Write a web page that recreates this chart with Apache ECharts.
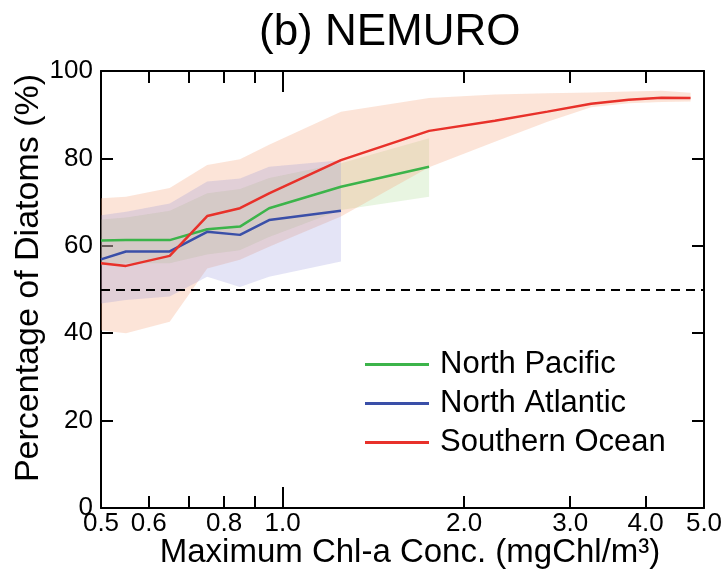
<!DOCTYPE html>
<html>
<head>
<meta charset="utf-8">
<script src="https://cdn.jsdelivr.net/npm/echarts@6/dist/echarts.min.js"></script>
<style>html,body{margin:0;padding:0;background:#fff}#c{width:726px;height:577px;background:#fff}</style>
</head>
<body>
<div id="c"></div>
<script>
// ---- data ----
const titleText = '(b) NEMURO';
const xName = 'Maximum Chl-a Conc. (mgChl/m\u00B3)';
const yName = 'Percentage of Diatoms (%)';
const xTickValues = [0.5, 0.6, 0.7, 0.8, 0.9, 1.0, 2.0, 3.0, 4.0, 5.0];
const xLabelValues = [0.5, 0.6, 0.8, 1.0, 2.0, 3.0, 4.0, 5.0];
const xMajorTick = [1.0];
const refLine = 50;

const xPacific = [0.5, 0.55, 0.65, 0.75, 0.85, 0.95, 1.25, 1.75];
const pacific = [61.2, 61.3, 61.3, 63.8, 64.4, 68.6, 73.5, 78.1];
const pacificHi = [66.0, 66.5, 68.0, 72.0, 73.0, 75.5, 78.9, 84.6];
const pacificLo = [55.5, 56.0, 56.0, 58.0, 59.0, 62.0, 68.2, 71.2];

const xAtlantic = [0.5, 0.55, 0.65, 0.75, 0.85, 0.95, 1.25];
const atlantic = [56.9, 58.7, 58.7, 63.2, 62.5, 65.9, 68.0];
const atlanticHi = [67.0, 67.8, 69.7, 74.7, 75.4, 78.1, 79.6];
const atlanticLo = [46.8, 47.6, 48.4, 52.9, 50.6, 52.9, 56.4];

const xSouthern = [0.5, 0.55, 0.65, 0.75, 0.85, 0.95, 1.25, 1.75, 2.25, 2.75, 3.25, 3.75, 4.25, 4.75];
const southern = [56.0, 55.4, 57.7, 66.8, 68.6, 72.0, 79.6, 86.3, 88.6, 90.7, 92.5, 93.4, 93.9, 93.8];
const southernHi = [70.9, 71.2, 73.2, 78.5, 79.8, 83.1, 90.7, 93.8, 94.6, 94.9, 95.1, 95.3, 95.5, 95.0];
const southernLo = [40.7, 40.0, 42.6, 54.8, 56.8, 59.8, 66.7, 78.0, 83.8, 88.4, 91.7, 92.6, 92.9, 93.0];

const names = ['North Pacific', 'North Atlantic', 'Southern Ocean'];
// ----------------------------------------

const FONT = '"Liberation Sans", Arial, Helvetica, sans-serif';
const pairs = (xs, ys) => xs.map((x, i) => [x, ys[i]]);
const blk = () => ({ color: '#000', width: 2 });
const tk = () => ({ color: '#000', width: 2 });

function band(xs, lo, hi, color, opacity, z) {
  return {
    type: 'custom', silent: true, z: z, clip: true,
    data: [[xs[0], lo[0]]],
    renderItem: function (params, api) {
      const pts = [];
      for (let i = 0; i < xs.length; i++) pts.push(api.coord([xs[i], hi[i]]));
      for (let i = xs.length - 1; i >= 0; i--) pts.push(api.coord([xs[i], lo[i]]));
      return { type: 'polygon', shape: { points: pts }, style: { fill: color, opacity: opacity } };
    }
  };
}

function logAxis(pos, opts) {
  return Object.assign({
    type: 'log', logBase: 10, min: 0.5, max: 5, position: pos,
    axisLine: { show: true, onZero: false, lineStyle: blk() },
    axisTick: { show: true, inside: true, length: 12, customValues: xTickValues, lineStyle: tk() },
    axisLabel: { show: false },
    splitLine: { show: false }
  }, opts);
}

const chart = echarts.init(document.getElementById('c'));
chart.setOption({
  animation: false,
  title: {
    text: titleText, left: 254, top: 6,
    textStyle: { fontSize: 44, fontWeight: 'normal', color: '#000', fontFamily: FONT }
  },
  grid: { left: 101, right: 22, top: 71, bottom: 69, outerBoundsMode: 'none' },
  legend: {
    data: names, orient: 'vertical', left: 360, top: 344,
    icon: 'rect', itemWidth: 64, itemHeight: 3, itemGap: 8,
    textStyle: { fontSize: 31, color: '#000', fontFamily: FONT, lineHeight: 31, padding: [0, 0, 0, 6] },
    selectedMode: false
  },
  xAxis: [
    logAxis('bottom', {
      axisLabel: {
        show: true, customValues: xLabelValues, fontSize: 26, color: '#000', margin: 3,
        fontFamily: FONT, formatter: v => Number(v).toFixed(1)
      },
      name: xName, nameLocation: 'middle', nameGap: 28, nameMoveOverlap: false,
      nameTextStyle: { fontSize: 33, color: '#000', fontFamily: FONT, padding: [0, 0, 0, 15] }
    }),
    logAxis('top', {}),
    logAxis('bottom', { axisLine: { show: false, onZero: false }, axisTick: { show: true, inside: true, length: 21, customValues: xMajorTick, lineStyle: tk() } }),
    logAxis('top', { axisLine: { show: false, onZero: false }, axisTick: { show: true, inside: true, length: 21, customValues: xMajorTick, lineStyle: tk() } })
  ],
  yAxis: [
    {
      type: 'value', min: 0, max: 100, interval: 20, position: 'left',
      axisLine: { show: true, onZero: false, lineStyle: blk() },
      axisTick: { show: true, inside: true, length: 12, lineStyle: tk() },
      axisLabel: { fontSize: 26, color: '#000', margin: 8, fontFamily: FONT },
      splitLine: { show: false },
      name: yName, nameLocation: 'middle', nameGap: 55, nameMoveOverlap: false,
      nameTextStyle: { fontSize: 34, color: '#000', fontFamily: FONT, padding: [0, 0, 0, 23] }
    },
    {
      type: 'value', min: 0, max: 100, interval: 20, position: 'right',
      axisLine: { show: true, onZero: false, lineStyle: blk() },
      axisTick: { show: true, inside: true, length: 12, lineStyle: tk() },
      axisLabel: { show: false }, splitLine: { show: false }
    }
  ],
  series: [
    band(xPacific, pacificLo, pacificHi, 'rgb(150,210,120)', 0.22, 1),
    band(xSouthern, southernLo, southernHi, 'rgb(244,165,125)', 0.3, 2),
    band(xAtlantic, atlanticLo, atlanticHi, 'rgb(130,130,215)', 0.22, 3),
    {
      name: names[0], type: 'line', data: pairs(xPacific, pacific), symbol: 'none', z: 10,
      lineStyle: { color: '#3cb44a', width: 2.5 }, itemStyle: { color: '#3cb44a' }
    },
    {
      name: names[1], type: 'line', data: pairs(xAtlantic, atlantic), symbol: 'none', z: 10,
      lineStyle: { color: '#3a4fa8', width: 2.5 }, itemStyle: { color: '#3a4fa8' }
    },
    {
      name: names[2], type: 'line', data: pairs(xSouthern, southern), symbol: 'none', z: 11,
      lineStyle: { color: '#e8312a', width: 2.5 }, itemStyle: { color: '#e8312a' },
      markLine: {
        silent: true, symbol: ['none', 'none'], label: { show: false },
        lineStyle: { color: '#000', width: 2, type: [9, 6] },
        data: [{ yAxis: refLine }]
      }
    }
  ]
});
</script>
</body>
</html>
